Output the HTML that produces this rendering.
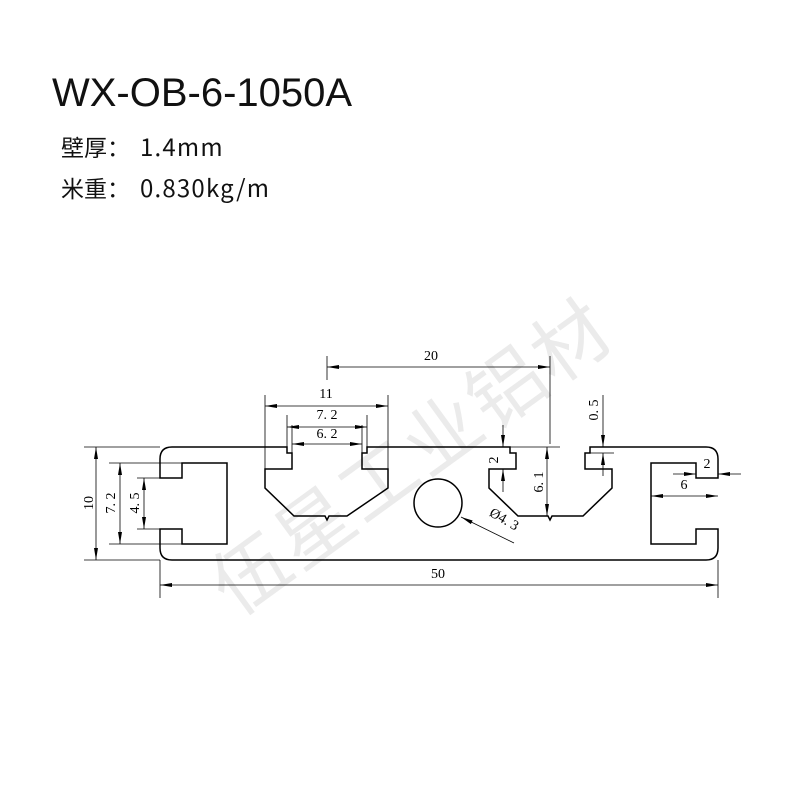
<!DOCTYPE html>
<html><head><meta charset="utf-8"><style>
body{margin:0;background:#fff;width:800px;height:800px;overflow:hidden}
</style></head><body>
<svg width="800" height="800" xmlns="http://www.w3.org/2000/svg">
<defs>
<marker id="a" markerWidth="12" markerHeight="6" refX="12" refY="3" orient="auto" markerUnits="userSpaceOnUse"><path d="M0,1 L12,3 L0,5z" fill="#000"/></marker>
<marker id="b" markerWidth="12" markerHeight="6" refX="0" refY="3" orient="auto" markerUnits="userSpaceOnUse"><path d="M12,1 L0,3 L12,5z" fill="#000"/></marker>
</defs>
<text x="52" y="106" font-family="Liberation Sans, sans-serif" font-size="40" fill="#111">WX-OB-6-1050A</text>
<text x="61" y="156" font-family="'Noto Sans CJK SC', sans-serif" font-size="23" fill="#111">壁厚：<tspan dx="10" font-size="24" letter-spacing="1.2">1.4mm</tspan></text>
<text x="61" y="197" font-family="'Noto Sans CJK SC', sans-serif" font-size="23" fill="#111">米重：<tspan dx="10" font-size="24" letter-spacing="1.2">0.830kg/m</tspan></text>
<text x="0" y="0" transform="translate(236,618) rotate(-36)" font-family="'Noto Sans CJK SC', sans-serif" font-size="76" fill="#ebebeb" letter-spacing="3">伍星工业铝材</text>
<g fill="none" stroke="#000" stroke-width="1.5">
<path d="M172,447 L287,447 L287,453 L292,453 L292,469 L265,469 L265,488 L294,516 L325,516 L327,520 L329,516 L347,516 L388,488 L388,469 L362,469 L362,453 L367,453 L367,447 L510,447 L510,453 L516,453 L516,469 L489,469 L489,488 L518,516 L548,516 L550,520 L552,516 L583,516 L612,488 L612,469 L585,469 L585,453 L590,453 L590,447 L706,447 Q718,447 718,459 L718,478 L696,478 L696,463 L651,463 L651,544 L696,544 L696,529 L718,529 L718,548 Q718,560 706,560 L172,560 Q160,560 160,548 L160,529 L182,529 L182,544 L227,544 L227,463 L182,463 L182,478 L160,478 L160,459 Q160,447 172,447 Z"/>
<circle cx="438" cy="503" r="24"/>
</g>
<g stroke="#000" stroke-width="0.8" fill="none">
<line x1="327" y1="356" x2="327" y2="380"/><line x1="550" y1="356" x2="550" y2="444"/><line x1="510" y1="447" x2="560" y2="447"/>
<line x1="327" y1="367" x2="550" y2="367" marker-start="url(#b)" marker-end="url(#a)"/>
<line x1="265" y1="395" x2="265" y2="469"/><line x1="388" y1="395" x2="388" y2="469"/>
<line x1="265" y1="406" x2="388" y2="406" marker-start="url(#b)" marker-end="url(#a)"/>
<line x1="287" y1="415" x2="287" y2="447"/><line x1="367" y1="415" x2="367" y2="447"/>
<line x1="287" y1="427" x2="367" y2="427" marker-start="url(#b)" marker-end="url(#a)"/>
<line x1="292" y1="425" x2="292" y2="453"/><line x1="362" y1="425" x2="362" y2="453"/>
<line x1="292" y1="444" x2="362" y2="444" marker-start="url(#b)" marker-end="url(#a)"/>
<line x1="84" y1="447" x2="160" y2="447"/><line x1="84" y1="560" x2="160" y2="560"/>
<line x1="96" y1="447" x2="96" y2="560" marker-start="url(#b)" marker-end="url(#a)"/>
<line x1="109" y1="463" x2="182" y2="463"/><line x1="109" y1="544" x2="182" y2="544"/>
<line x1="120" y1="463" x2="120" y2="544" marker-start="url(#b)" marker-end="url(#a)"/>
<line x1="137" y1="478" x2="160" y2="478"/><line x1="137" y1="529" x2="160" y2="529"/>
<line x1="144" y1="478" x2="144" y2="529" marker-start="url(#b)" marker-end="url(#a)"/>
<line x1="160" y1="560" x2="160" y2="598"/><line x1="718" y1="560" x2="718" y2="598"/>
<line x1="160" y1="585" x2="718" y2="585" marker-start="url(#b)" marker-end="url(#a)"/>
<line x1="503" y1="425" x2="503" y2="447" marker-end="url(#a)"/>
<line x1="503" y1="492" x2="503" y2="469" marker-end="url(#a)"/>
<line x1="603" y1="395" x2="603" y2="447" marker-end="url(#a)"/>
<line x1="603" y1="476" x2="603" y2="453" marker-end="url(#a)"/>
<line x1="590" y1="453" x2="614" y2="453"/>
<line x1="547" y1="447" x2="547" y2="516" marker-start="url(#b)" marker-end="url(#a)"/>
<line x1="673" y1="474" x2="696" y2="474" marker-end="url(#a)"/>
<line x1="741" y1="474" x2="718" y2="474" marker-end="url(#a)"/>
<line x1="651" y1="496" x2="718" y2="496" marker-start="url(#b)" marker-end="url(#a)"/>
<line x1="514" y1="543" x2="461" y2="517" marker-end="url(#a)"/>
</g>
<g font-family="Liberation Serif, serif" font-size="14" fill="#000" text-anchor="middle">
<text x="431" y="360">20</text>
<text x="326" y="398">11</text>
<text x="327" y="419">7. 2</text>
<text x="327" y="438">6. 2</text>
<text x="438" y="578">50</text>
<text transform="translate(93,503) rotate(-90)">10</text>
<text transform="translate(115,503) rotate(-90)">7. 2</text>
<text transform="translate(139,503) rotate(-90)">4. 5</text>
<text transform="translate(498,460) rotate(-90)">2</text>
<text transform="translate(598,410) rotate(-90)">0. 5</text>
<text transform="translate(543,482) rotate(-90)">6. 1</text>
<text x="707" y="468">2</text>
<text x="684" y="489">6</text>
<text transform="translate(502,523) rotate(30)">Ø4. 3</text>
</g>
</svg>
</body></html>
